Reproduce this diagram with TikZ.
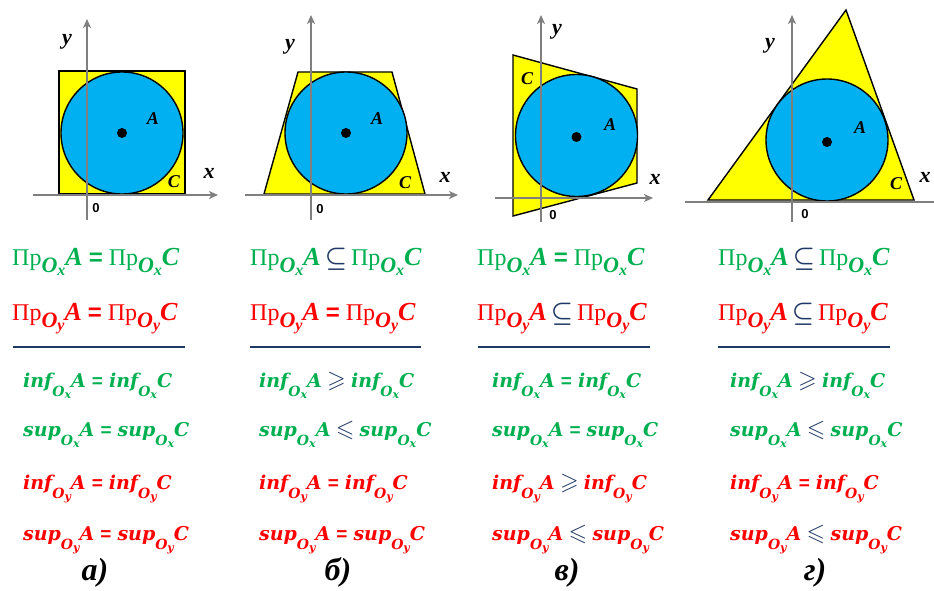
\documentclass[tikz,border=0pt]{standalone}
\usepackage{fontspec}
\usepackage{amssymb}
\usepackage{tikz}
\usetikzlibrary{arrows.meta}
\setmainfont{Liberation Serif}
\newfontfamily\sansf{Liberation Sans}
\newfontfamily\infont{DejaVu Serif}

% Indici O_x, O_y
\newcommand{\pind}[1]{\raisebox{-7pt}{\fontsize{22}{22}\selectfont\bfseries\itshape O\raisebox{-3pt}{\fontsize{16}{16}\selectfont #1}}}
\newcommand{\iind}[1]{\raisebox{-9pt}{\fontsize{14}{14}\selectfont\bfseries\itshape O\raisebox{-2pt}{\fontsize{11}{11}\selectfont #1}}}
\newcommand{\Prj}[2]{Пр\pind{#1}{\fontsize{26}{28}\selectfont\bfseries\itshape #2}}
\newcommand{\Op}[3]{{\bfseries\itshape #1}\iind{#2}{\bfseries\itshape #3}}
\newcommand{\ug}{{\sansf\bfseries =}}
\newcommand{\rel}[1]{\,{\fontsize{30}{30}\selectfont\textcolor{blu}{\boldmath$#1$}}\,}
\newcommand{\rell}[1]{\;{\fontsize{24}{24}\selectfont\textcolor{blu}{$#1$}}\;}

\begin{document}
\begin{tikzpicture}[x=1pt, y=-1pt,
  figura/.style={fill=giallo, draw=black, line width=1.4pt},
  cerchio/.style={fill=celeste, draw=black, line width=1.4pt},
  asse/.style={draw=grigio, line width=1.6pt, -{Stealth[length=9pt,width=8pt,inset=2.5pt]}},
  lett/.style={font=\fontsize{18}{20}\selectfont\bfseries\itshape},
  assel/.style={font=\fontsize{22}{24}\selectfont\bfseries\itshape},
  zero/.style={font=\sansf\fontsize{13}{14}\selectfont\bfseries},
  prx/.style={anchor=base west, inner sep=0pt, text=verde, font=\fontsize{24}{28}\selectfont},
  pry/.style={prx, text=rosso},
  infx/.style={anchor=base west, inner sep=0pt, text=verde, font=\infont\fontsize{19}{24}\selectfont},
  infy/.style={infx, text=rosso},
  linea/.style={draw=blu, line width=2.5pt},
  sotto/.style={anchor=base, font=\fontsize{32}{36}\selectfont\bfseries\itshape}]

% Colori
\definecolor{verde}{HTML}{00B050}
\definecolor{rosso}{HTML}{FF0000}
\definecolor{blu}{HTML}{1F3864}
\definecolor{celeste}{HTML}{00B0F0}
\definecolor{giallo}{HTML}{FFFF00}
\definecolor{grigio}{HTML}{7F7F7F}

\useasboundingbox (0,0) rectangle (934,591);

% Pannello a) - quadrato
\filldraw[figura] (59,71) rectangle (185,194);
\filldraw[cerchio] (122,133) circle (61pt);
\draw[asse] (33,195) -- (218,195);
\draw[asse] (87,220) -- (87,19);
\fill (122,133) circle (5pt);
\node[lett] (Aa) at (153,119) {A};
\node[lett] (Ca) at (174,182) {C};
\node[assel] (xa) at (209,173) {x};
\node[assel] (ya) at (67,42) {y};
\node[zero] (oa) at (96,208) {0};

% Pannello b) - trapezio
\filldraw[figura] (264,194) -- (298,72) -- (392,72) -- (425,194) -- cycle;
\filldraw[cerchio] (346,133) circle (61pt);
\draw[asse] (245,195) -- (458,195);
\draw[asse] (311,220) -- (311,15);
\fill (346,133) circle (5pt);
\node[lett] (Ab) at (377,119) {A};
\node[lett] (Cb) at (405,183) {C};
\node[assel] (xb) at (445,177) {x};
\node[assel] (yb) at (290,47) {y};
\node[zero] (ob) at (320,209) {0};

% Pannello c) - quadrilatero
\filldraw[figura] (513,55) -- (637,89) -- (637,183) -- (513,216) -- cycle;
\filldraw[cerchio] (576.5,135.5) circle (61pt);
\draw[asse] (495,198) -- (653,198);
\draw[asse] (541,222) -- (541,15);
\fill (576.5,137) circle (5pt);
\node[lett] (Ac) at (610,125) {A};
\node[lett] (Cc) at (527,79) {C};
\node[assel] (xc) at (655,179) {x};
\node[assel] (yc) at (557,32) {y};
\node[zero] (oc) at (553,215) {0};

% Pannello g) - triangolo
\filldraw[figura] (708,200) -- (846,10) -- (914,200) -- cycle;
\filldraw[cerchio] (827,140) circle (61pt);
\draw[asse] (685,202) -- (948,202);
\draw[asse] (792,222) -- (792,15);
\fill (827,142) circle (5pt);
\node[lett] (Ad) at (860,128) {A};
\node[lett] (Cd) at (896,184) {C};
\node[assel] (xd) at (925,177) {x};
\node[assel] (yd) at (770,46) {y};
\node[zero] (od) at (805,214) {0};

% Proiezioni
\node[prx] (pxa) at (12,265) {\Prj{x}{A} \ug{} \Prj{x}{C}};
\node[pry] (pya) at (12,320) {\Prj{y}{A} \ug{} \Prj{y}{C}};
\node[prx] (pxb) at (250,265) {\Prj{x}{A}\rel{\subseteq}\Prj{x}{C}};
\node[pry] (pyb) at (250,320) {\Prj{y}{A} \ug{} \Prj{y}{C}};
\node[prx] (pxc) at (477,265) {\Prj{x}{A} \ug{} \Prj{x}{C}};
\node[pry] (pyc) at (477,320) {\Prj{y}{A}\rel{\subseteq}\Prj{y}{C}};
\node[prx] (pxd) at (718,265) {\Prj{x}{A}\rel{\subseteq}\Prj{x}{C}};
\node[pry] (pyd) at (718,320) {\Prj{y}{A}\rel{\subseteq}\Prj{y}{C}};

% Linee
\draw[linea] (13,347) -- (185,347);
\draw[linea] (250,347) -- (421,347);
\draw[linea] (478,347) -- (650,347);
\draw[linea] (718,347) -- (890,347);

% inf e sup - a)
\node[infx] (ixa) at (23,387) {\Op{inf}{x}{A} \ug{} \Op{inf}{x}{C}};
\node[infx] (sxa) at (23,436) {\Op{sup}{x}{A} \ug{} \Op{sup}{x}{C}};
\node[infy] (iya) at (23,489) {\Op{inf}{y}{A} \ug{} \Op{inf}{y}{C}};
\node[infy] (sya) at (23,540) {\Op{sup}{y}{A} \ug{} \Op{sup}{y}{C}};

% inf e sup - b)
\node[infx] (ixb) at (259,387) {\Op{inf}{x}{A}\rell{\geqslant}\Op{inf}{x}{C}};
\node[infx] (sxb) at (259,436) {\Op{sup}{x}{A}\rell{\leqslant}\Op{sup}{x}{C}};
\node[infy] (iyb) at (259,489) {\Op{inf}{y}{A} \ug{} \Op{inf}{y}{C}};
\node[infy] (syb) at (259,540) {\Op{sup}{y}{A} \ug{} \Op{sup}{y}{C}};

% inf e sup - c)
\node[infx] (ixc) at (492,387) {\Op{inf}{x}{A} \ug{} \Op{inf}{x}{C}};
\node[infx] (sxc) at (492,436) {\Op{sup}{x}{A} \ug{} \Op{sup}{x}{C}};
\node[infy] (iyc) at (492,489) {\Op{inf}{y}{A}\rell{\geqslant}\Op{inf}{y}{C}};
\node[infy] (syc) at (492,540) {\Op{sup}{y}{A}\rell{\leqslant}\Op{sup}{y}{C}};

% inf e sup - g)
\node[infx] (ixd) at (730,387) {\Op{inf}{x}{A}\rell{\geqslant}\Op{inf}{x}{C}};
\node[infx] (sxd) at (730,436) {\Op{sup}{x}{A}\rell{\leqslant}\Op{sup}{x}{C}};
\node[infy] (iyd) at (730,489) {\Op{inf}{y}{A} \ug{} \Op{inf}{y}{C}};
\node[infy] (syd) at (730,540) {\Op{sup}{y}{A}\rell{\leqslant}\Op{sup}{y}{C}};

% Didascalie
\node[sotto] (la) at (95,580) {а)};
\node[sotto] (lb) at (338,580) {б)};
\node[sotto] (lc) at (567,580) {в)};
\node[sotto] (ld) at (815,580) {г)};

\end{tikzpicture}
\end{document}
